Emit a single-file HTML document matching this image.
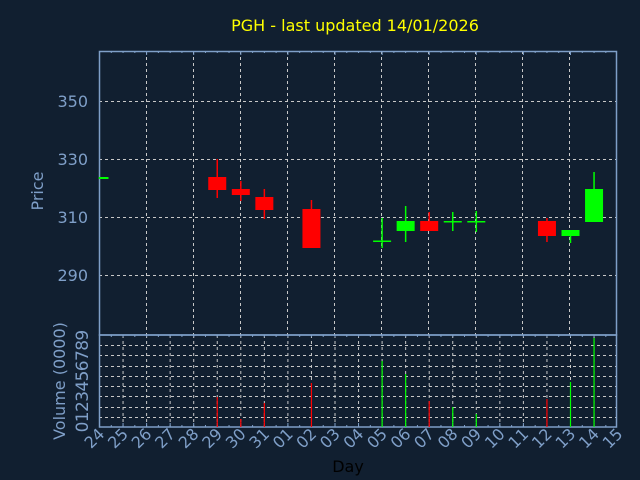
<!DOCTYPE html>
<html><head><meta charset="utf-8"><style>
html,body{margin:0;padding:0;background:#111f30;}
svg{display:block;font-family:"DejaVu Sans","Liberation Sans",sans-serif;}
</style></head><body>
<svg width="640" height="480" viewBox="0 0 640 480" xmlns="http://www.w3.org/2000/svg">
<rect width="640" height="480" fill="#111f30"/>
<text x="355" y="31" fill="#ffff00" font-size="16" text-anchor="middle">PGH - last updated 14/01/2026</text>
<g stroke="#c8c8c8" stroke-width="1" stroke-dasharray="3,3">
<line x1="99" y1="101.5" x2="617" y2="101.5"/>
<line x1="99" y1="159.5" x2="617" y2="159.5"/>
<line x1="99" y1="217.5" x2="617" y2="217.5"/>
<line x1="99" y1="275.5" x2="617" y2="275.5"/>
<line x1="146.5" y1="51" x2="146.5" y2="335"/><line x1="193.5" y1="51" x2="193.5" y2="335"/>
<line x1="240.5" y1="51" x2="240.5" y2="335"/><line x1="287.5" y1="51" x2="287.5" y2="335"/>
<line x1="334.5" y1="51" x2="334.5" y2="335"/><line x1="381.5" y1="51" x2="381.5" y2="335"/>
<line x1="428.5" y1="51" x2="428.5" y2="335"/><line x1="475.5" y1="51" x2="475.5" y2="335"/>
<line x1="522.5" y1="51" x2="522.5" y2="335"/><line x1="569.5" y1="51" x2="569.5" y2="335"/>
<line x1="99" y1="345.5" x2="617" y2="345.5"/><line x1="99" y1="355.5" x2="617" y2="355.5"/>
<line x1="99" y1="366.5" x2="617" y2="366.5"/><line x1="99" y1="376.5" x2="617" y2="376.5"/>
<line x1="99" y1="386.5" x2="617" y2="386.5"/><line x1="99" y1="396.5" x2="617" y2="396.5"/>
<line x1="99" y1="407.5" x2="617" y2="407.5"/><line x1="99" y1="417.5" x2="617" y2="417.5"/>
</g>
<g stroke="#c8c8c8" stroke-width="1" stroke-dasharray="3,3" id="vg"></g>
<g id="ticks" stroke="#7f9fc8" stroke-width="1"></g>
<rect x="99.5" y="51.5" width="517" height="283.5" fill="none" stroke="#7f9fc8" stroke-width="1.5"/>
<rect x="99.5" y="335" width="517" height="92" fill="none" stroke="#7f9fc8" stroke-width="1.5"/>
<g id="c"></g>
<g fill="#7f9fc8" font-size="16" text-anchor="end">
<text x="88" y="107">350</text><text x="88" y="165">330</text><text x="88" y="223">310</text><text x="88" y="281">290</text>
</g>
<text transform="translate(43,191) rotate(-90)" fill="#7f9fc8" font-size="16" text-anchor="middle">Price</text>
<text transform="translate(65,381) rotate(-90)" fill="#7f9fc8" font-size="16" text-anchor="middle">Volume (0000)</text>
<g id="vl" fill="#7f9fc8" font-size="17" text-anchor="middle"></g>
<g id="xl" fill="#7f9fc8" font-size="16" text-anchor="end"></g>
<text x="348" y="472" fill="#000000" font-size="16" text-anchor="middle">Day</text>
<script>
var NS="http://www.w3.org/2000/svg";
function el(p,t,a,txt){var e=document.createElementNS(NS,t);for(var k in a)e.setAttribute(k,a[k]);if(txt!==undefined)e.textContent=txt;document.getElementById(p).appendChild(e);}
var X=function(i){return 99.5+i*23.55;};
for(var i=1;i<22;i++){el("vg","line",{x1:X(i),y1:335,x2:X(i),y2:427});}
for(var h=0;h<44;h++){var x=99.5+h*11.775;var L=(h%4==0)?4:2;el("ticks","line",{x1:x,y1:51,x2:x,y2:51+L});el("ticks","line",{x1:x,y1:335,x2:x,y2:335+2});el("ticks","line",{x1:x,y1:427,x2:x,y2:427-((h%2==0)?4:2)});}
var days=["24","25","26","27","28","29","30","31","01","02","03","04","05","06","07","08","09","10","11","12","13","14","15"];
days.forEach(function(d,i){el("xl","text",{transform:"translate("+(X(i)+6)+",435) rotate(-45)"},d);});
for(var v=0;v<=9;v++){var y=427-v*10.2;el("vl","text",{transform:"translate("+88+","+y+") rotate(-90)"},String(v));}
var R="#ff0000",G="#00ff00";
var c=[[0,177,179,177,179,G],[5,177,190,159,198,R],[6,189,195,181,201,R],[7,197,210,189,219,R],[9,209,248,200,248,R],
[12,240.5,242,218,248,G],[13,221,231,206,242,G],[14,221,231,212,231,R],[15,221,222.5,212,231,G],[16,221,222.5,211,232,G],
[19,221,236,218,242,R],[20,230,236,230,243,G],[21,189,222,172,222,G]];
c.forEach(function(k){var x=X(k[0]);el("c","line",{x1:x,y1:k[3],x2:x,y2:k[4],stroke:k[5],"stroke-width":1.5});
var w=18;var x0=x-w/2;var x1=x+w/2;if(x0<100)x0=100;el("c","rect",{x:x0,y:k[1],width:x1-x0,height:Math.max(k[2]-k[1],1.5),fill:k[5]});});
var vb=[[5,397,R],[6,419,R],[7,403,R],[9,383,R],[12,361,G],[13,374,G],[14,401,R],[15,407,G],[16,414,G],[19,399,R],[20,382,G],[21,338,G]];
vb.forEach(function(k){var x=X(k[0]);el("c","line",{x1:x,y1:k[1],x2:x,y2:427,stroke:k[2],"stroke-width":1.2});});
</script>
</svg>
</body></html>
